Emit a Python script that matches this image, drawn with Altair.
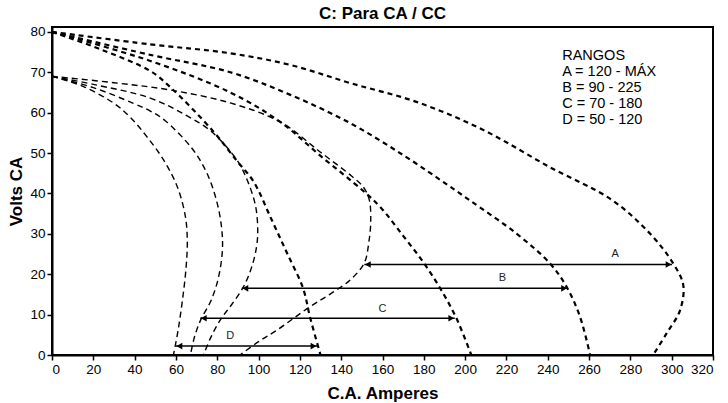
import altair as alt
import pandas as pd

# ---- curve data ----
C1_x = [0, 47.6, 86.3, 115.4, 144.5, 176.8, 208.8, 241, 271, 289.6, 300.7, 305.6, 304, 297.6, 291]
C1_y = [80, 76.9, 74.7, 71.8, 67.3, 62.6, 55.7, 46.5, 38.4, 30, 22.7, 17.3, 11, 5.4, 0]

C2_x = [0, 47.6, 86.3, 115.4, 144, 170, 191.8, 202.5, 225, 241, 249, 255.6, 260.5]
C2_y = [80, 74.3, 70, 64.4, 57.5, 49.5, 42, 38.2, 30, 22.7, 17, 9.5, 0]

C3_x = [0, 47.6, 86.3, 110.5, 130, 150.7, 159, 170, 180, 188.4, 195.7, 203]
C3_y = [80, 72.8, 65, 57.7, 49.3, 40.6, 36.6, 29.5, 22.8, 16.1, 9.2, 0]

C4_x = [0, 23.4, 47.6, 57.3, 78, 89.6, 97.5, 106.4, 114, 121.5, 125, 130]
C4_y = [80, 75.7, 70.3, 66.3, 55.4, 48, 43, 33.4, 25, 16.6, 9.2, 0]

E1_x = [0, 15, 30, 38, 46, 54, 60.7, 64.6, 65.5, 64.8, 63, 61, 58.8]
E1_y = [69, 66.5, 62.3, 58.8, 54, 48.3, 41.6, 34.2, 28, 21, 13, 6, 0]

E2_x = [0, 20, 39.4, 47.6, 54.8, 68, 75, 79.5, 82, 82.5, 80.5, 77, 72, 69, 67]
E2_y = [69, 66.2, 62.3, 60.4, 58, 51, 45, 38.5, 32, 26, 19, 13.5, 8.7, 4.5, 0]

E3_x = [0, 20, 47.6, 65, 77, 89.6, 94.5, 98.5, 99.6, 99, 96.5, 92.6, 87, 81.5, 77, 73.3]
E3_y = [69, 67, 63.6, 59.3, 55.4, 48.2, 43.3, 37, 31, 26.7, 21.5, 16.8, 12.5, 8.7, 4.5, 0]

E4_x = [0, 30, 57.3, 86.3, 110.5, 130, 145, 150.7, 153.6, 154.3, 153.4, 151.2, 144.4, 135, 125, 109, 100, 91]
E4_y = [69, 67.4, 65.6, 62.4, 57.7, 50.2, 44.3, 41.6, 38.4, 33, 28, 22.8, 18.6, 15.2, 12, 6.2, 3.3, 0]

# ---- range arrows ----
arrow_names = ["A", "B", "C", "D"]
arrow_start = [151.2, 91.9, 71.8, 60.0]
arrow_end = [300.2, 249.6, 195.0, 128.3]
arrow_y = [22.4, 16.5, 9.1, 2.2]
label_x = [272.7, 218.0, 160.0, 86.3]
label_y = [24.9, 19.0, 11.5, 4.7]

# ---- legend text ----
legend_lines = ["RANGOS", "A = 120 - MÁX", "B = 90 - 225", "C = 70 - 180", "D = 50 - 120"]
legend_x = 247.0
legend_y = [73.9, 70.0, 66.1, 62.2, 58.3]

FONT = "Liberation Sans"

curves = {
    "C1": (C1_x, C1_y, "C"), "C2": (C2_x, C2_y, "C"),
    "C3": (C3_x, C3_y, "C"), "C4": (C4_x, C4_y, "C"),
    "E1": (E1_x, E1_y, "E"), "E2": (E2_x, E2_y, "E"),
    "E3": (E3_x, E3_y, "E"), "E4": (E4_x, E4_y, "E"),
}
rows = []
for name, (xs, ys, fam) in curves.items():
    for i, (xv, yv) in enumerate(zip(xs, ys)):
        rows.append({"curve": name, "fam": fam, "i": i, "x": xv, "y": yv})
df = pd.DataFrame(rows)
dfC = df[df.fam == "C"]
dfE = df[df.fam == "E"]

arr = pd.DataFrame({"name": arrow_names, "x": arrow_start, "x2": arrow_end, "y": arrow_y})
heads_l = pd.DataFrame({"x": arrow_start, "y": arrow_y})
heads_r = pd.DataFrame({"x": arrow_end, "y": arrow_y})
labels = pd.DataFrame({"x": label_x, "y": label_y, "t": arrow_names})
leg = pd.DataFrame({"x": [legend_x] * len(legend_lines), "y": legend_y, "t": legend_lines})

xscale = alt.Scale(domain=[0, 320], nice=False, zero=False)
yscale = alt.Scale(domain=[0, 81.2], nice=False, zero=False)
X = alt.X("x:Q", scale=xscale, axis=alt.Axis(values=list(range(0, 321, 20)), title="C.A. Amperes"))
Y = alt.Y("y:Q", scale=yscale, axis=alt.Axis(values=list(range(0, 81, 10)), title="Volts CA"))

linesC = alt.Chart(dfC).mark_line(color="black", strokeWidth=2.2, strokeDash=[5, 4],
                                  interpolate="catmull-rom").encode(
    x=X, y=Y, detail="curve:N", order="i:Q")
linesE = alt.Chart(dfE).mark_line(color="black", strokeWidth=1.4, strokeDash=[6, 4],
                                  interpolate="catmull-rom").encode(
    x=X, y=Y, detail="curve:N", order="i:Q")

rules = alt.Chart(arr).mark_rule(color="black", strokeWidth=1.5).encode(x=X, x2="x2:Q", y=Y)
hl = alt.Chart(heads_l).mark_point(shape="triangle-left", filled=True, color="black",
                                   size=45, opacity=1, xOffset=3.5).encode(x=X, y=Y)
hr = alt.Chart(heads_r).mark_point(shape="triangle-right", filled=True, color="black",
                                   size=45, opacity=1, xOffset=-3.5).encode(x=X, y=Y)
lab = alt.Chart(labels).mark_text(font=FONT, fontSize=11, color="#222", baseline="middle",
                                  align="center").encode(x=X, y=Y, text="t:N")
legtxt = alt.Chart(leg).mark_text(font=FONT, fontSize=14.5, color="black", baseline="middle",
                                  align="left").encode(x=X, y=Y, text="t:N")

chart = alt.layer(linesC, linesE, rules, hl, hr, lab, legtxt).properties(
    width=661, height=328,
    autosize=alt.AutoSizeParams(type="none"),
    padding={"left": 52, "top": 27, "right": 15, "bottom": 48},
    title=alt.Title("C: Para CA / CC"),
).configure_axis(
    domainColor="black", domainWidth=2, tickColor="black", tickWidth=1.5, tickSize=5,
    labelFont=FONT, labelFontSize=13.5, labelColor="black", labelPadding=2,
    titleFont=FONT, titleFontSize=17, titleFontWeight="bold", titleColor="black", grid=False,
).configure_axisX(titlePadding=10).configure_axisY(titlePadding=4).configure_view(
    stroke="black", strokeWidth=2
).configure_title(
    font=FONT, fontSize=17, fontWeight="bold", color="black", anchor="middle", offset=2
)

chart.save("out.html", embed_options={"renderer": "svg", "actions": False})
